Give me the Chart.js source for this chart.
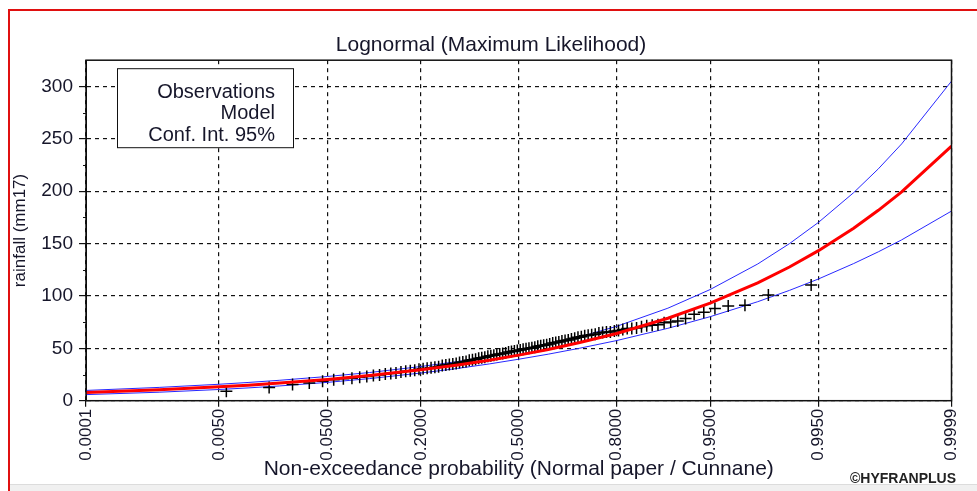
<!DOCTYPE html>
<html lang="en">
<head>
<meta charset="UTF-8">
<title>Lognormal (Maximum Likelihood)</title>
<script src="https://cdn.jsdelivr.net/npm/chart.js"></script>
<style>
    body { margin: 0; background: #fff; }
    #wrap { position: relative; width: 977px; height: 491px; }
</style>
</head>
<body>
<div id="wrap"><canvas id="freqChart"></canvas></div>
<script>
// x axis: non-exceedance probabilities on normal paper
const tickProbs = [0.0001, 0.005, 0.05, 0.2, 0.5, 0.8, 0.95, 0.995, 0.9999];
const tickLabels = ['0.0001', '0.0050', '0.0500', '0.2000', '0.5000', '0.8000', '0.9500', '0.9950', '0.9999'];
const yTicks = [0, 50, 100, 150, 200, 250, 300];

// fitted lognormal quantiles and 95% band, read at these probabilities
const curveProbs = [0.0001, 0.001, 0.005, 0.01, 0.02, 0.05, 0.1, 0.2, 0.3, 0.4, 0.5, 0.6, 0.7, 0.8, 0.9, 0.95, 0.98, 0.99, 0.995, 0.998, 0.999, 0.9995, 0.9999];
const modelValues = [7.8, 10.4, 13.2, 14.8, 16.8, 20.3, 24.0, 29.5, 34.1, 38.7, 43.5, 48.9, 55.5, 64.2, 78.7, 93.1, 112.5, 127.6, 143.2, 164.7, 181.7, 199.3, 243.0];
const upperValues = [9.8, 12.7, 15.7, 17.4, 19.5, 23.1, 26.9, 32.6, 37.4, 42.3, 47.4, 53.4, 60.9, 71.0, 88.3, 106.1, 130.5, 149.9, 170.2, 198.6, 221.3, 245.1, 305.0];
const lowerValues = [5.8, 8.1, 10.7, 12.2, 14.1, 17.5, 21.1, 26.4, 30.8, 35.1, 39.6, 44.4, 50.1, 57.4, 69.1, 80.2, 94.5, 105.3, 116.2, 130.9, 142.1, 153.5, 181.0];

// observed values, sorted (plotted with Cunnane positions)
const observed = [
    9.0, 12.5, 15.5, 17.0, 18.5, 20.0, 21.0, 21.5, 22.5, 23.0,
    24.0, 24.5, 25.5, 26.0, 26.5, 27.5, 28.0, 28.5, 29.0, 30.0,
    30.5, 31.0, 31.5, 32.0, 32.5, 33.5, 34.0, 34.5, 35.0, 35.5,
    36.5, 37.0, 37.5, 38.5, 39.0, 39.5, 40.5, 41.0, 41.5, 42.5,
    43.0, 43.5, 44.0, 44.5, 45.0, 45.5, 46.5, 47.0, 47.5, 48.0,
    48.5, 49.0, 49.5, 50.0, 50.5, 51.0, 52.0, 52.5, 53.0, 53.5,
    54.0, 55.0, 55.5, 56.0, 57.0, 57.5, 58.0, 59.0, 59.5, 60.5,
    61.0, 62.0, 62.5, 63.0, 63.5, 64.5, 65.0, 65.5, 65.5, 66.5,
    67.0, 68.0, 69.0, 69.0, 69.5, 70.5, 71.5, 72.0, 72.5, 74.5,
    75.0, 76.0, 78.5, 82.5, 84.5, 88.0, 90.5, 91.0, 101.0, 110.5
];

const FONT = '"Liberation Sans", Arial, sans-serif';
const TEXT = '#16162a';

// inverse standard normal (Acklam)
function probit(p) {
    const a = [-39.69683028665376, 220.9460984245205, -275.9285104469687, 138.3577518672690, -30.66479806614716, 2.506628277459239];
    const b = [-54.47609879822406, 161.5858368580409, -155.6989798598866, 66.80131188771972, -13.28068155288572];
    const c = [-0.007784894002430293, -0.3223964580411365, -2.400758277161838, -2.549732539343734, 4.374664141464968, 2.938163982698783];
    const d = [0.007784695709041462, 0.3224671290700398, 2.445134137142996, 3.754408661907416];
    const pl = 0.02425;
    let q, r;
    if (p < pl || p > 1 - pl) {
        q = Math.sqrt(-2 * Math.log(p < pl ? p : 1 - p));
        const v = (((((c[0]*q + c[1])*q + c[2])*q + c[3])*q + c[4])*q + c[5]) /
                  ((((d[0]*q + d[1])*q + d[2])*q + d[3])*q + 1);
        return p < pl ? v : -v;
    }
    q = p - 0.5; r = q * q;
    return (((((a[0]*r + a[1])*r + a[2])*r + a[3])*r + a[4])*r + a[5]) * q /
           (((((b[0]*r + b[1])*r + b[2])*r + b[3])*r + b[4])*r + 1);
}

const curve = vals => curveProbs.map((p, i) => ({x: probit(p), y: vals[i]}));
const n = observed.length;
const obsPoints = observed.map((v, i) => ({x: probit((i + 1 - 0.4) / (n + 0.2)), y: v}));

// frame, border, title, legend box, credits
const decor = {
    id: 'decor',
    beforeDraw(chart) {
        const ctx = chart.ctx;
        ctx.save();
        ctx.fillStyle = '#fff';
        ctx.fillRect(0, 0, chart.width, chart.height);
        ctx.fillStyle = '#f0f0f0';
        ctx.fillRect(10, chart.height - 6, chart.width - 10, 6);
        ctx.fillStyle = '#dcdcdc';
        ctx.fillRect(10, chart.height - 7, chart.width - 10, 1);
        ctx.fillStyle = '#e01010';
        ctx.fillRect(8, 9, chart.width - 8, 2);
        ctx.fillRect(8, 9, 2, chart.height - 9);
        ctx.restore();
    },
    afterDraw(chart) {
        const {ctx, chartArea: ca, scales: {y}} = chart;
        ctx.save();
        ctx.strokeStyle = '#111';
        ctx.lineWidth = 1.5;
        ctx.strokeRect(ca.left, ca.top, ca.right - ca.left, ca.bottom - ca.top);
        // minor ticks on y
        ctx.lineWidth = 1;
        ctx.beginPath();
        for (let v = 25; v < 300; v += 50) {
            const py = Math.round(y.getPixelForValue(v)) + 0.5;
            ctx.moveTo(ca.left - 3, py);
            ctx.lineTo(ca.left, py);
        }
        ctx.stroke();

        ctx.fillStyle = TEXT;
        ctx.textAlign = 'center';
        ctx.textBaseline = 'middle';
        ctx.font = '21px ' + FONT;
        ctx.fillText('Lognormal (Maximum Likelihood)', 491, 45.5);

        // legend box
        const bx = ca.left + 31, by = ca.top + 8, bw = 176, bh = 79;
        ctx.fillStyle = '#fff';
        ctx.fillRect(bx, by, bw, bh);
        ctx.strokeRect(bx + 0.5, by + 0.5, bw, bh);
        ctx.fillStyle = TEXT;
        ctx.textAlign = 'right';
        ctx.font = '20px ' + FONT;
        ['Observations', 'Model', 'Conf. Int. 95%'].forEach((t, i) => {
            ctx.fillText(t, bx + 158, by + 24 + i * 21.5);
        });

        ctx.font = 'bold 14px ' + FONT;
        ctx.fillStyle = '#222';
        ctx.fillText('\u00A9HYFRANPLUS', 956, 479);
        ctx.restore();
    }
};

const ctx = document.getElementById('freqChart').getContext('2d');
new Chart(ctx, {
    type: 'scatter',
    data: {
        datasets: [
            {
                label: 'Model',
                data: curve(modelValues),
                showLine: true,
                borderColor: '#ff0000',
                borderWidth: 3,
                pointRadius: 0,
                order: 0
            },
            {
                label: 'Observations',
                data: obsPoints,
                pointStyle: 'cross',
                pointRadius: 6,
                borderColor: '#000',
                borderWidth: 1.5,
                order: 1
            },
            {
                label: 'Conf. Int. 95% (upper)',
                data: curve(upperValues),
                showLine: true,
                borderColor: '#2828ff',
                borderWidth: 1,
                pointRadius: 0,
                order: 2
            },
            {
                label: 'Conf. Int. 95% (lower)',
                data: curve(lowerValues),
                showLine: true,
                borderColor: '#2828ff',
                borderWidth: 1,
                pointRadius: 0,
                order: 2
            }
        ]
    },
    options: {
        responsive: true,
        maintainAspectRatio: false,
        animation: false,
        layout: { padding: { left: 8, right: 25.5, top: 60.2, bottom: 0 } },
        plugins: {
            legend: { display: false },
            tooltip: { enabled: false }
        },
        scales: {
            x: {
                type: 'linear',
                min: probit(tickProbs[0]),
                max: probit(tickProbs[tickProbs.length - 1]),
                afterBuildTicks: s => { s.ticks = tickProbs.map(p => ({value: probit(p)})); },
                afterFit: s => { s.height = 90.3; },
                ticks: {
                    callback: (v, i) => tickLabels[i],
                    autoSkip: false,
                    minRotation: 90,
                    maxRotation: 90,
                    padding: 2,
                    color: TEXT,
                    font: { family: FONT, size: 17 }
                },
                grid: { color: '#111', lineWidth: 1.2, tickLength: 6 },
                border: { color: '#000', dash: [4, 4] },
                title: {
                    display: true,
                    text: 'Non-exceedance probability (Normal paper / Cunnane)',
                    color: TEXT,
                    font: { family: FONT, size: 21 },
                    padding: { top: 0, bottom: 9 }
                }
            },
            y: {
                min: 0,
                max: 325,
                afterBuildTicks: s => { s.ticks = yTicks.map(v => ({value: v})); },
                afterFit: s => { s.width = 78; },
                ticks: {
                    padding: 6,
                    color: TEXT,
                    font: { family: FONT, size: 19 }
                },
                grid: { color: '#111', lineWidth: 1.2, tickLength: 7 },
                border: { color: '#000', dash: [4, 4] },
                title: {
                    display: true,
                    text: 'rainfall (mm17)',
                    color: TEXT,
                    font: { family: FONT, size: 17 },
                    padding: { top: 2, bottom: 0 }
                }
            }
        }
    },
    plugins: [decor]
});
</script>
</body>
</html>
